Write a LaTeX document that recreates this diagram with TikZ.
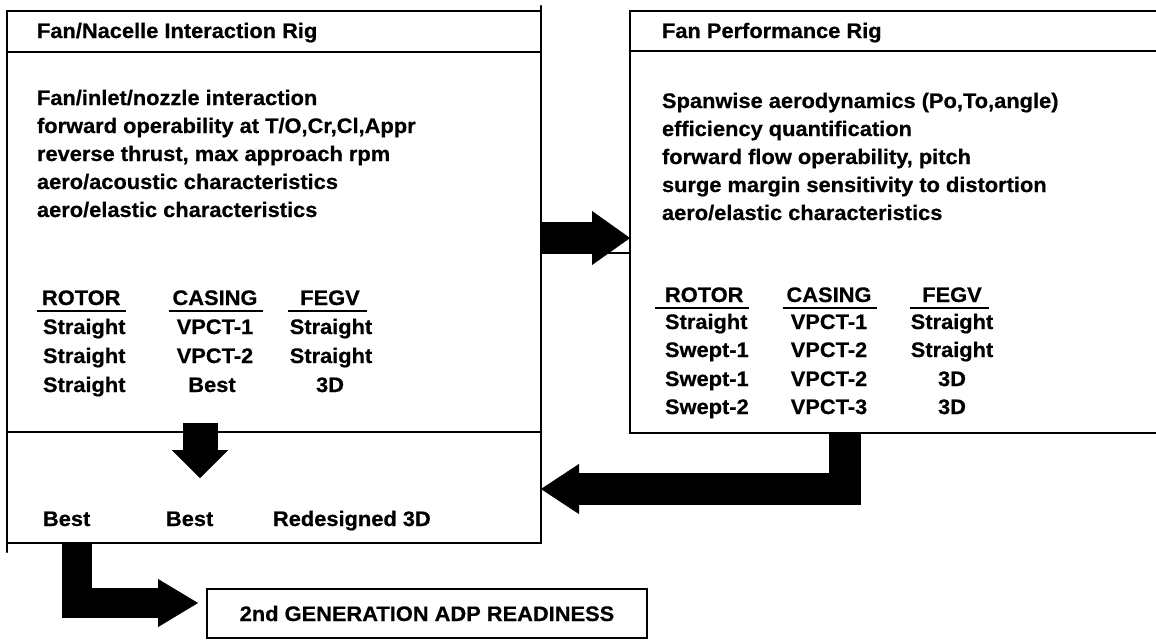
\documentclass[tikz,border=0pt]{standalone}
\usepackage{fontspec}
\setmainfont{Liberation Sans}[FakeStretch=1.04, BoldFeatures={FakeBold=0.6}]
\usetikzlibrary{arrows.meta,calc}
\begin{document}
\begin{tikzpicture}[x=1pt,y=-1pt,
  every node/.style={inner sep=0pt, outer sep=0pt},
  txt/.style={font=\fontsize{21}{24}\selectfont\bfseries, anchor=base west},
  ctr/.style={txt, anchor=base},
  boxline/.style={line width=2.4pt, line cap=round, line join=miter},
  thinline/.style={line width=1.4pt},
  uline/.style={line width=2.6pt},
  fat/.style={draw=black, line join=miter, line cap=butt}]
\useasboundingbox (0,0) rectangle (1156,641);

% ---------- boxes ----------
\node[draw, boxline, minimum width=534pt, minimum height=532pt, anchor=north west] (nac) at (7,11) {};
\node[minimum width=530pt, minimum height=422pt, anchor=north west] (perf) at (630,11) {};
\draw[boxline] (perf.north east) -- (perf.north west) -- (perf.south west) -- (perf.south east);
\node[draw, boxline, minimum width=440pt, minimum height=49pt, anchor=north west,
      font=\fontsize{21}{24}\selectfont\bfseries] (ready) at (207,589) {2nd GENERATION ADP READINESS};

% small overshoots of the hand-drawn frame
\draw[boxline] (nac.south west) -- ++(0,9);
\draw[boxline] (nac.north east) -- ++(0,-5);

% dividers
\draw[boxline] (nac.west |- 0,52) -- (nac.east |- 0,52);
\draw[boxline] (nac.west |- 0,432) -- (nac.east |- 0,432);
\draw[boxline] (perf.west |- 0,51) -- (perf.east |- 0,51);

% ---------- left box texts ----------
\node[txt] (t1) at (37,38) {Fan/Nacelle Interaction Rig};
\node[txt] (l1) at (37,105) {Fan/inlet/nozzle interaction};
\node[txt] (l2) at (37,133) {forward operability at T/O,Cr,Cl,Appr};
\node[txt] (l3) at (37,161) {reverse thrust, max approach rpm};
\node[txt] (l4) at (37,189) {aero/acoustic characteristics};
\node[txt] (l5) at (37,217) {aero/elastic characteristics};

\node[txt] (lh1) at (42,305) {ROTOR};
\node[ctr] (lh2) at (215,305) {CASING};
\node[ctr] (lh3) at (330,305) {FEGV};
\draw[uline] ($(lh1.base west)+(-5,6)$) -- ($(lh1.base east)+(6,6)$);
\draw[uline] ($(lh2.base west)+(-4,6)$) -- ($(lh2.base east)+(6,6)$);
\draw[uline] ($(lh3.base west)+(-12,6)$) -- ($(lh3.base east)+(7,6)$);

\node[txt] (la1) at (43,334) {Straight};
\node[ctr] (lb1) at (215,334) {VPCT-1};
\node[ctr] (lc1) at (331,334) {Straight};
\node[txt] (la2) at (43,363) {Straight};
\node[ctr] (lb2) at (215,363) {VPCT-2};
\node[ctr] (lc2) at (331,363) {Straight};
\node[txt] (la3) at (43,392) {Straight};
\node[ctr] (lb3) at (212,392) {Best};
\node[ctr] (lc3) at (330,392) {3D};

\node[txt] (b1) at (43,526) {Best};
\node[txt] (b2) at (166,526) {Best};
\node[txt] (b3) at (273,526) {Redesigned 3D};

% ---------- right box texts ----------
\node[txt] (t2) at (662,38) {Fan Performance Rig};
\node[txt] (r1) at (662,108) {Spanwise aerodynamics (Po,To,angle)};
\node[txt] (r2) at (662,136) {efficiency quantification};
\node[txt] (r3) at (662,164) {forward flow operability, pitch};
\node[txt] (r4) at (662,192) {surge margin sensitivity to distortion};
\node[txt] (r5) at (662,220) {aero/elastic characteristics};

\node[txt] (rh1) at (665,302) {ROTOR};
\node[ctr] (rh2) at (829,302) {CASING};
\node[ctr] (rh3) at (952,302) {FEGV};
\draw[uline] ($(rh1.base west)+(-10,6)$) -- ($(rh1.base east)+(6,6)$);
\draw[uline] ($(rh2.base west)+(-4,6)$) -- ($(rh2.base east)+(6,6)$);
\draw[uline] ($(rh3.base west)+(-12,6)$) -- ($(rh3.base east)+(7,6)$);

\node[txt] (ra1) at (665,329) {Straight};
\node[ctr] (rb1) at (829,329) {VPCT-1};
\node[ctr] (rc1) at (952,329) {Straight};
\node[txt] (ra2) at (665,357) {Swept-1};
\node[ctr] (rb2) at (829,357) {VPCT-2};
\node[ctr] (rc2) at (952,357) {Straight};
\node[txt] (ra3) at (665,386) {Swept-1};
\node[ctr] (rb3) at (829,386) {VPCT-2};
\node[ctr] (rc3) at (952,386) {3D};
\node[txt] (ra4) at (665,414) {Swept-2};
\node[ctr] (rb4) at (829,414) {VPCT-3};
\node[ctr] (rc4) at (952,414) {3D};

% ---------- block arrows ----------
\coordinate (dtop) at (200,423);
\coordinate (dtip) at (200,478);
\coordinate (tip4) at (198,603);

\draw[fat, line width=32pt, -{Triangle[length=38pt,width=54pt,line width=0.4pt]}]
  (nac.east |- 0,238) -- (perf.west |- 0,238);
\draw[thinline] (perf.west |- 0,253) -- ++(-32,0);
\draw[fat, line width=35pt, -{Triangle[length=28pt,width=56pt,line width=0.4pt]}]
  (dtop) -- (dtip);
\draw[fat, line width=32pt, -{Triangle[length=38pt,width=50pt,line width=0.4pt]}]
  (perf.south -| 845,0) |- (nac.east |- 0,489);
\draw[fat, line width=30pt, -{Triangle[length=40pt,width=48pt,line width=0.4pt]}]
  (nac.south -| 77,0) |- (tip4);
\end{tikzpicture}
\end{document}
